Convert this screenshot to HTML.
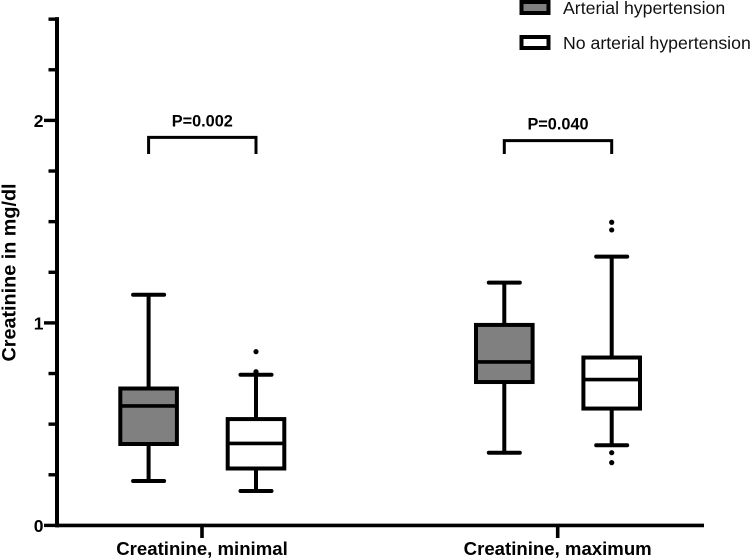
<!DOCTYPE html>
<html lang="en">
<head>
<meta charset="utf-8">
<title>Creatinine box plot</title>
<style>
html,body{margin:0;padding:0;background:#fff;width:750px;height:560px;overflow:hidden}
svg{display:block}
text{font-family:"Liberation Sans",Arial,sans-serif;fill:#000}
.b{font-weight:bold;font-size:16.3px}
.x{font-weight:bold;font-size:18.6px}
.t{font-weight:bold;font-size:19.8px}
.l{font-size:17.7px;fill:#111}
</style>
</head>
<body>
<svg id="chart" xmlns="http://www.w3.org/2000/svg" width="750" height="560" viewBox="0 0 750 560">
  <text class="t" transform="translate(15.5 272.5) rotate(-90)" text-anchor="middle">Creatinine in mg/dl</text>
  <g>
    <rect x="521.5" y="2" width="27" height="11" fill="#808080" stroke="#000" stroke-width="4"/>
    <text class="l" x="563" y="14">Arterial hypertension</text>
    <rect x="521.5" y="37" width="27" height="11" fill="#fff" stroke="#000" stroke-width="4"/>
    <text class="l" x="563" y="49">No arterial hypertension</text>
  </g>
  <g id="plot"></g>
</svg>
<script>
const categories = ["Creatinine, minimal", "Creatinine, maximum"];
const yMajorTicks = [0, 1, 2];
const yTickValues = [0, 0.25, 0.5, 0.75, 1, 1.25, 1.5, 1.75, 2, 2.25, 2.5];
const pLabels = ["P=0.002", "P=0.040"];
const bracketLevels = [1.916, 1.9];

const hypertensionWhiskerHigh = [1.139, 1.199];
const hypertensionQ3 = [0.676, 0.99];
const hypertensionMedian = [0.59, 0.807];
const hypertensionQ1 = [0.402, 0.708];
const hypertensionWhiskerLow = [0.219, 0.359];
const hypertensionOutliers = [[], []];

const noHypertensionWhiskerHigh = [0.744, 1.327];
const noHypertensionQ3 = [0.525, 0.829];
const noHypertensionMedian = [0.405, 0.72];
const noHypertensionQ1 = [0.281, 0.577];
const noHypertensionWhiskerLow = [0.17, 0.396];
const noHypertensionOutliers = [[0.858, 0.759], [1.497, 1.459, 0.359, 0.31]];

const NS = "http://www.w3.org/2000/svg";
const plot = document.getElementById("plot");

function yScale(v) { return 525.4 - v * 202.5; }
function xScale(i) { return 202 + i * 355.7; }
function xSeries(i, s) { return xScale(i) + (s === 0 ? -53.4 : 54); }

function make(tag, props, parent) {
  const el = document.createElementNS(NS, tag);
  for (const k in props) el.setAttribute(k, props[k]);
  (parent || plot).appendChild(el);
  return el;
}
function segment(x1, y1, x2, y2, w, parent, cap) {
  return make("line", {x1: x1, y1: y1, x2: x2, y2: y2, stroke: "#000", "stroke-width": w, "stroke-linecap": cap || "butt"}, parent);
}

// axes
const yAxisLine = segment(57, yScale(2.5) - 2, 57, yScale(0) + 2, 4);


const xAxisLine = segment(57, yScale(0), 704, yScale(0), 3.6);



yTickValues.forEach(function (v) {
  const major = yMajorTicks.indexOf(v) >= 0;
  const tick = segment(major ? 44 : 48.5, yScale(v), 57, yScale(v), 3.4);
  
  
  if (major) {
    const label = make("text", {x: 43.5, y: yScale(v) + 6.5, "text-anchor": "end", "class": "b", style: "font-size:17.5px"});
    label.textContent = String(v);
    
    
  }
});

categories.forEach(function (c, i) {
  const tick = segment(xScale(i), yScale(0), xScale(i), 538, 3.6);
  
  
  const label = make("text", {x: xScale(i), y: 555, "text-anchor": "middle", "class": "x"});
  label.textContent = c;
  
  
});

// boxes
function drawBox(i, s, hi, q3, med, q1, lo, outliers, fill) {
  const g = make("g", {});
  
  
  const cx = xSeries(i, s);
  const whisker = segment(cx, yScale(hi), cx, yScale(lo), 4, g);
  
  
  const capHigh = segment(cx - 15.5, yScale(hi), cx + 15.5, yScale(hi), 4, g, "round");
  
  
  const capLow = segment(cx - 15.5, yScale(lo), cx + 15.5, yScale(lo), 4, g, "round");
  
  
  const rect = make("rect", {x: cx - 28.3, y: yScale(q3), width: 56.6, height: yScale(q1) - yScale(q3), fill: fill, stroke: "#000", "stroke-width": 4}, g);
  
  
  const median = segment(cx - 28.3, yScale(med), cx + 28.3, yScale(med), 3.6, g);
  
  
  outliers.forEach(function (o) {
    const dot = make("circle", {cx: cx, cy: yScale(o), r: 2.6, fill: "#000"}, g);
    
    
  });
}

categories.forEach(function (c, i) {
  drawBox(i, 0, hypertensionWhiskerHigh[i], hypertensionQ3[i], hypertensionMedian[i], hypertensionQ1[i], hypertensionWhiskerLow[i], hypertensionOutliers[i], "#808080");
  drawBox(i, 1, noHypertensionWhiskerHigh[i], noHypertensionQ3[i], noHypertensionMedian[i], noHypertensionQ1[i], noHypertensionWhiskerLow[i], noHypertensionOutliers[i], "#fff");
});

// significance brackets
pLabels.forEach(function (p, i) {
  const y = yScale(bracketLevels[i]);
  const x1 = xSeries(i, 0);
  const x2 = xSeries(i, 1);
  const bracket = make("path", {d: "M" + x1 + " 154V" + y + "H" + x2 + "V154", fill: "none", stroke: "#000", "stroke-width": 3});
  
  
  const label = make("text", {x: (x1 + x2) / 2, y: y - 11, "text-anchor": "middle", "class": "b"});
  label.textContent = p;
  
  
});
</script>
</body>
</html>
